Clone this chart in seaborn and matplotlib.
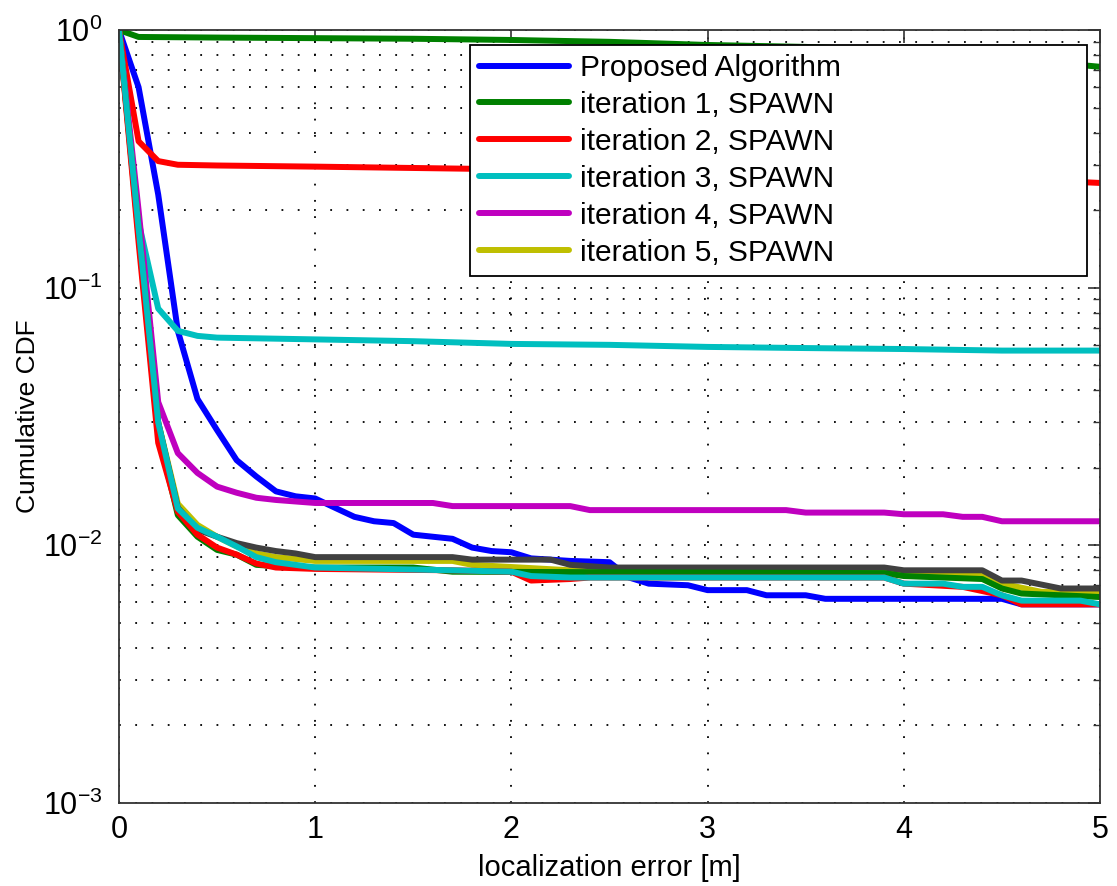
import numpy as np
import pandas as pd
import matplotlib
matplotlib.use("Agg")
import matplotlib.pyplot as plt
import seaborn as sns

# ---- data (x in m, y = cumulative CDF) ----
proposed_x = [0, 0.1, 0.2, 0.3, 0.4, 0.5, 0.6, 0.7, 0.8, 0.9, 1.0, 1.1, 1.2, 1.3, 1.4, 1.5,
              1.7, 1.8, 1.9, 2.0, 2.1, 2.3, 2.5, 2.6, 2.7, 2.9, 3.0, 3.2, 3.3, 3.5, 3.6, 4.5, 4.6, 5.0]
proposed_y = [1, 0.6, 0.23, 0.068, 0.037, 0.028, 0.0214, 0.0185, 0.0162, 0.0155, 0.0152, 0.014,
              0.0129, 0.0124, 0.0122, 0.011, 0.0106, 0.0098, 0.0095, 0.0094, 0.0089, 0.0087, 0.0086,
              0.0075, 0.0071, 0.0070, 0.0067, 0.0067, 0.0064, 0.0064, 0.0062, 0.0062, 0.0059, 0.0059]

it1_x = [0, 0.1, 0.5, 1, 1.5, 2, 2.5, 3, 3.5, 4, 4.5, 5]
it1_y = [1, 0.94, 0.935, 0.93, 0.925, 0.915, 0.9, 0.875, 0.86, 0.83, 0.78, 0.72]

it2_x = [0, 0.1, 0.2, 0.3, 0.5, 1, 2, 3, 4, 4.5, 5]
it2_y = [1, 0.37, 0.31, 0.30, 0.298, 0.295, 0.288, 0.28, 0.27, 0.265, 0.255]

it3_x = [0, 0.1, 0.2, 0.3, 0.4, 0.5, 1, 1.5, 2, 2.5, 3, 3.5, 4, 4.5, 5]
it3_y = [1, 0.18, 0.083, 0.068, 0.065, 0.064, 0.063, 0.062, 0.0605, 0.06, 0.0589, 0.0583,
         0.0578, 0.057, 0.057]

it4_x = [0, 0.1, 0.2, 0.3, 0.4, 0.5, 0.6, 0.7, 0.8, 1.0, 1.6, 1.7, 2.3, 2.4, 3.4, 3.5,
         3.9, 4.0, 4.2, 4.3, 4.4, 4.5, 5.0]
it4_y = [1, 0.2, 0.036, 0.0228, 0.0191, 0.0169, 0.016, 0.0153, 0.015, 0.0146, 0.0146, 0.0142,
         0.0142, 0.0137, 0.0137, 0.0134, 0.0134, 0.0132, 0.0132, 0.0129, 0.0129, 0.0124, 0.0124]

it5_x = [0, 0.1, 0.2, 0.3, 0.4, 0.5, 0.6, 0.7, 0.8, 1.0, 1.7, 1.8, 2.3, 3.9, 4.0, 4.4, 4.5, 4.7, 5.0]
it5_y = [1, 0.17, 0.03, 0.0145, 0.012, 0.0108, 0.0099, 0.0093, 0.009, 0.0087, 0.0087, 0.0084,
         0.0080, 0.0079, 0.0077, 0.0076, 0.0071, 0.0066, 0.0065]

it6_x = [0, 0.1, 0.2, 0.3, 0.4, 0.5, 0.6, 0.7, 0.8, 0.9, 1.0, 1.7, 1.8, 2.2, 2.3, 2.5,
         3.9, 4.0, 4.4, 4.5, 4.6, 4.8, 5.0]
it6_y = [1, 0.17, 0.03, 0.014, 0.0115, 0.0108, 0.0102, 0.0098, 0.0095, 0.0093, 0.0090, 0.0090,
         0.0088, 0.0088, 0.0084, 0.0082, 0.0082, 0.0080, 0.0080, 0.0073, 0.0073, 0.0068, 0.0068]

it7_x = [0, 0.1, 0.2, 0.3, 0.4, 0.5, 0.6, 0.7, 0.8, 1.0, 1.5, 1.7, 3.9, 4.0, 4.4, 4.5, 4.6, 5.0]
it7_y = [1, 0.16, 0.027, 0.0131, 0.0108, 0.0096, 0.0092, 0.0084, 0.0083, 0.0082, 0.0082, 0.0079,
         0.0078, 0.0076, 0.0074, 0.0068, 0.0065, 0.0063]

it8_x = [0, 0.1, 0.2, 0.3, 0.4, 0.5, 0.6, 0.7, 0.8, 1.0, 1.7, 2.0, 2.1, 2.3, 2.4, 3.9, 4.0,
         4.3, 4.5, 4.6, 5.0]
it8_y = [1, 0.15, 0.025, 0.0135, 0.011, 0.0098, 0.0092, 0.0085, 0.0082, 0.0081, 0.0080, 0.0079,
         0.0073, 0.0074, 0.0075, 0.0075, 0.0071, 0.0069, 0.0064, 0.0059, 0.0059]

it9_x = [0, 0.1, 0.2, 0.3, 0.4, 0.5, 0.6, 0.7, 0.8, 0.9, 1.0, 1.7, 2.0, 2.1, 2.3, 3.9, 4.0,
         4.2, 4.3, 4.4, 4.5, 4.6, 4.9, 5.0]
it9_y = [1, 0.17, 0.03, 0.0139, 0.0117, 0.0108, 0.0099, 0.0090, 0.0086, 0.0084, 0.0082, 0.0080,
         0.0079, 0.0076, 0.0075, 0.0075, 0.0071, 0.0071, 0.0069, 0.0069, 0.0064, 0.0061, 0.0061, 0.0059]

# matlab default colour order
C_BLUE = (0, 0, 1)
C_GREEN = (0, 0.5, 0)
C_RED = (1, 0, 0)
C_CYAN = (0, 0.75, 0.75)
C_MAG = (0.75, 0, 0.75)
C_YEL = (0.75, 0.75, 0)
C_GRAY = (0.25, 0.25, 0.25)

series = [
    ("Proposed Algorithm", proposed_x, proposed_y, C_BLUE),
    ("iteration 1, SPAWN", it1_x, it1_y, C_GREEN),
    ("iteration 2, SPAWN", it2_x, it2_y, C_RED),
    ("iteration 3, SPAWN", it3_x, it3_y, C_CYAN),
    ("iteration 4, SPAWN", it4_x, it4_y, C_MAG),
    ("iteration 5, SPAWN", it5_x, it5_y, C_YEL),
    (None, it6_x, it6_y, C_GRAY),
    (None, it7_x, it7_y, C_GREEN),
    (None, it8_x, it8_y, C_RED),
    (None, it9_x, it9_y, C_CYAN),
]

sns.set_style("white")
plt.rcParams['font.family'] = ['Liberation Sans', 'DejaVu Sans']
plt.rcParams['mathtext.default'] = 'regular'
plt.rcParams['text.color'] = 'k'
plt.rcParams['axes.labelcolor'] = 'k'
plt.rcParams['xtick.labelcolor'] = 'k'
plt.rcParams['ytick.labelcolor'] = 'k'

fig = plt.figure(figsize=(11.17, 8.86), dpi=100)
ax = fig.add_axes([0.1065, 0.0937, 0.8783, 0.8724])

for label, xs, ys, col in series:
    df = pd.DataFrame({"x": xs, "y": ys})
    sns.lineplot(data=df, x="x", y="y", color=col, lw=4.3, ax=ax, sort=False,
                 estimator=None, label=label, legend=(label is not None))

ax.set_yscale("log")
ax.set_xlim(0, 5)
ax.set_ylim(1e-3, 1)
ax.set_xticks([0, 1, 2, 3, 4, 5])

grid_kw = dict(color='k', linestyle=(0, (1, 8)), lw=1.3)
ax.grid(True, which='major', axis='x', **grid_kw)
ax.grid(True, which='both', axis='y', **grid_kw)
ax.set_axisbelow(True)

ax.tick_params(which='both', direction='in', top=True, right=True, labelsize=22, color='#333333')
ax.tick_params(which='major', length=9, width=1.2)
ax.tick_params(axis='x', which='major', pad=9)
ax.tick_params(axis='y', which='major', pad=12)
ax.tick_params(which='minor', length=5, width=1.0)
for sp in ax.spines.values():
    sp.set_color('#333333')
    sp.set_linewidth(1.3)

ax.set_xlabel("localization error [m]", fontsize=21, labelpad=6)
ax.set_ylabel("Cumulative CDF", fontsize=19, labelpad=2)

leg = ax.legend(bbox_to_anchor=(0.3578, 0.683, 0.6289, 0.2976), loc='upper left', mode='expand',
                borderaxespad=0, fontsize=21.5, handlelength=3.0, labelspacing=0.3,
                fancybox=False, framealpha=1, edgecolor='k', borderpad=0.3, handletextpad=0.4)
leg.get_frame().set_linewidth(1.3)

fig.savefig("out.png", dpi=100)
